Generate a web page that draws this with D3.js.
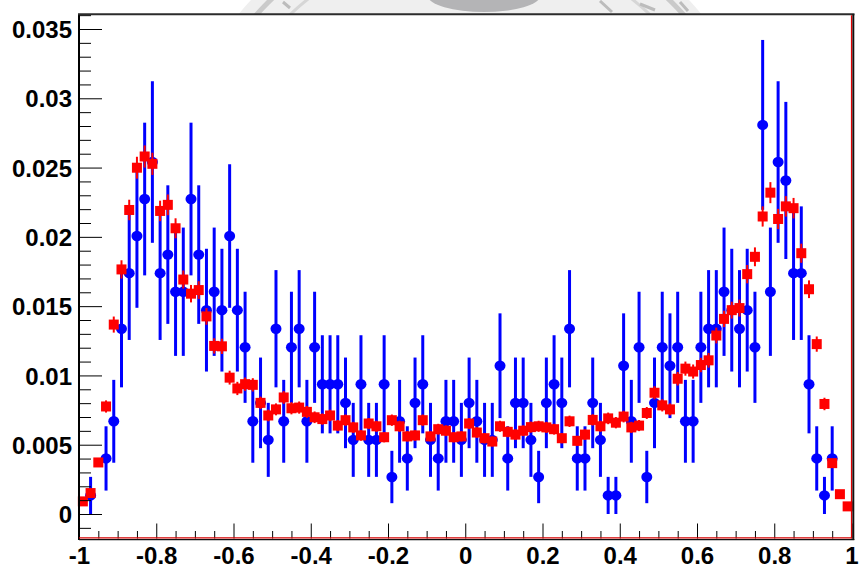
<!DOCTYPE html>
<html>
<head>
<meta charset="utf-8">
<script src="https://cdn.jsdelivr.net/npm/d3@7"></script>
<style>
  html, body { margin: 0; padding: 0; background: #fff; }
  svg { display: block; }
  .tick text { font-family: "Liberation Sans", Arial, Helvetica, sans-serif; font-weight: bold; font-size: 24px; fill: #000; }
</style>
</head>
<body>
<svg id="chart" width="859" height="567"></svg>
<script>
// Histogram binning: 100 bins on [-1, 1]
const binLow = -1, binWidth = 0.02, nBins = 100;
const binCenters = d3.range(nBins).map(i => binLow + binWidth * (i + 0.5));

// Blue series (data points, null = empty bin)
const blueValues = [
  null, 0.00134, null, 0.00401, 0.00669, 0.01337, 0.01738, 0.02006, 0.02273, 0.0254,
  0.01738, 0.01872, 0.01604, 0.01604, 0.02273, 0.01872, 0.01471, 0.01604, 0.01471, 0.02006,
  0.01471, 0.01203, 0.00669, 0.00802, 0.00535, 0.01337, 0.00669, 0.01203, 0.01337, 0.00669,
  0.01203, 0.00936, 0.00936, 0.00936, 0.00802, 0.00535, 0.00936, 0.00535, 0.00535, 0.00936,
  0.00267, 0.00669, 0.00401, 0.00802, 0.00936, 0.00535, 0.00401, 0.00669, 0.00669, 0.00535,
  0.00802, 0.00669, 0.00535, 0.00535, 0.0107, 0.00401, 0.00802, 0.00802, 0.00535, 0.00267,
  0.00802, 0.00936, 0.00802, 0.01337, 0.00401, 0.00401, 0.00802, 0.00535, 0.00134, 0.00134,
  0.0107, 0.00669, 0.01203, 0.00267, 0.00802, 0.01203, 0.0107, 0.01203, 0.00669, 0.00669,
  0.01203, 0.01337, 0.01337, 0.01604, 0.01471, 0.01337, 0.01471, 0.01203, 0.02808, 0.01604,
  0.0254, 0.02407, 0.01738, 0.01738, 0.00936, 0.00401, 0.00134, 0.00401, null, null
];
const blueErrors = [
  null, 0.00134, null, 0.00232, 0.00299, 0.00423, 0.00482, 0.00518, 0.00551, 0.00583,
  0.00482, 0.005, 0.00463, 0.00463, 0.00551, 0.005, 0.00443, 0.00463, 0.00443, 0.00518,
  0.00443, 0.00401, 0.00299, 0.00327, 0.00267, 0.00423, 0.00299, 0.00401, 0.00423, 0.00299,
  0.00401, 0.00354, 0.00354, 0.00354, 0.00327, 0.00267, 0.00354, 0.00267, 0.00267, 0.00354,
  0.00189, 0.00299, 0.00232, 0.00327, 0.00354, 0.00267, 0.00232, 0.00299, 0.00299, 0.00267,
  0.00327, 0.00299, 0.00267, 0.00267, 0.00378, 0.00232, 0.00327, 0.00327, 0.00267, 0.00189,
  0.00327, 0.00354, 0.00327, 0.00423, 0.00232, 0.00232, 0.00327, 0.00267, 0.00134, 0.00134,
  0.00378, 0.00299, 0.00401, 0.00189, 0.00327, 0.00401, 0.00378, 0.00401, 0.00299, 0.00299,
  0.00401, 0.00423, 0.00423, 0.00463, 0.00443, 0.00423, 0.00443, 0.00401, 0.00613, 0.00463,
  0.00583, 0.00567, 0.00482, 0.00482, 0.00354, 0.00232, 0.00134, 0.00232, null, null
];

// Red series (high-statistics distribution)
const redValues = [
  0.00091, 0.00151, 0.00372, 0.00776, 0.01367, 0.01765, 0.02194, 0.02499, 0.0258, 0.02527,
  0.02187, 0.02231, 0.02062, 0.01692, 0.0159, 0.01616, 0.01426, 0.01213, 0.0121, 0.00984,
  0.00906, 0.00937, 0.00932, 0.00802, 0.00711, 0.00755, 0.00841, 0.00763, 0.00768, 0.00737,
  0.00698, 0.00685, 0.00711, 0.00638, 0.00677, 0.00625, 0.00567, 0.00653, 0.00633, 0.00554,
  0.00677, 0.00633, 0.0056, 0.00567, 0.00677, 0.0056, 0.00612, 0.00601, 0.00554, 0.0056,
  0.00653, 0.00588, 0.00547, 0.00523, 0.00633, 0.00593, 0.00573, 0.00601, 0.00627, 0.00633,
  0.00625, 0.00612, 0.00547, 0.00669, 0.00528, 0.00573, 0.00679, 0.00633, 0.0069, 0.00659,
  0.00703, 0.00625, 0.00638, 0.00729, 0.00875, 0.00784, 0.00755, 0.00976, 0.01049, 0.01028,
  0.01075, 0.01109, 0.01288, 0.01408, 0.01471, 0.01486, 0.01731, 0.01856, 0.02147, 0.02319,
  0.02129, 0.0222, 0.02207, 0.01882, 0.01622, 0.01226, 0.00794, 0.00367, 0.00143, 0.00055
];
const redErrors = [
  0.00015, 0.0002, 0.0003, 0.00044, 0.00058, 0.00066, 0.00074, 0.00079, 0.0008, 0.0008,
  0.00074, 0.00075, 0.00072, 0.00065, 0.00063, 0.00064, 0.0006, 0.00055, 0.00055, 0.0005,
  0.00048, 0.00048, 0.00048, 0.00045, 0.00042, 0.00043, 0.00046, 0.00044, 0.00044, 0.00043,
  0.00042, 0.00041, 0.00042, 0.0004, 0.00041, 0.0004, 0.00038, 0.0004, 0.0004, 0.00037,
  0.00041, 0.0004, 0.00037, 0.00038, 0.00041, 0.00037, 0.00039, 0.00039, 0.00037, 0.00037,
  0.0004, 0.00038, 0.00037, 0.00036, 0.0004, 0.00039, 0.00038, 0.00039, 0.0004, 0.0004,
  0.0004, 0.00039, 0.00037, 0.00041, 0.00036, 0.00038, 0.00041, 0.0004, 0.00042, 0.00041,
  0.00042, 0.0004, 0.0004, 0.00043, 0.00047, 0.00044, 0.00043, 0.00049, 0.00051, 0.00051,
  0.00052, 0.00053, 0.00057, 0.00059, 0.00061, 0.00061, 0.00066, 0.00068, 0.00073, 0.00076,
  0.00073, 0.00074, 0.00074, 0.00069, 0.00064, 0.00055, 0.00045, 0.0003, 0.00019, 0.00012
];

// Axis ticks and labels
const xMajorTicks = [-1, -0.8, -0.6, -0.4, -0.2, 0, 0.2, 0.4, 0.6, 0.8, 1];
const xTickLabels = ["-1", "-0.8", "-0.6", "-0.4", "-0.2", "0", "0.2", "0.4", "0.6", "0.8", "1"];
const yMajorTicks = [0, 0.005, 0.01, 0.015, 0.02, 0.025, 0.03, 0.035];
const yTickLabels = ["0", "0.005", "0.01", "0.015", "0.02", "0.025", "0.03", "0.035"];

const svg = d3.select("#chart");
const frame = { left: 79, right: 851.5, top: 14.3, bottom: 538.5 };

const x = d3.scaleLinear().domain([-1, 1]).range([frame.left, frame.right]);
const y = d3.scaleLinear().domain([0, 0.035]).range([514, 29]);

// Faint emblem peeking out above the frame
const defs = svg.append("defs");
defs.append("clipPath").attr("id", "topStrip")
  .append("rect").attr("x", 0).attr("y", 0).attr("width", 859).attr("height", frame.top);
const emblem = svg.append("g").attr("clip-path", "url(#topStrip)");
emblem.append("circle").attr("cx", 470).attr("cy", 205).attr("r", 300).attr("fill", "#efefef");
emblem.append("circle").attr("cx", 470).attr("cy", 205).attr("r", 286)
  .attr("fill", "none").attr("stroke", "#cacaca").attr("stroke-width", 5);
emblem.append("circle").attr("cx", 470).attr("cy", 205).attr("r", 262)
  .attr("fill", "none").attr("stroke", "#d6d6d6").attr("stroke-width", 3);
emblem.append("ellipse").attr("cx", 484).attr("cy", -4).attr("rx", 56).attr("ry", 16).attr("fill", "#b4b4b6");
emblem.append("path").attr("d", "M283,2 L290,8 M600,1 L612,12 M640,4 L655,10 M680,2 L688,11")
  .attr("stroke", "#bcbcbc").attr("stroke-width", 3).attr("fill", "none");

// Plot area background
svg.append("rect")
  .attr("x", frame.left).attr("y", frame.top)
  .attr("width", frame.right - frame.left).attr("height", frame.bottom - frame.top)
  .attr("fill", "#fff");

const plot = svg.append("g");

// Blue points with error bars
const blueData = binCenters.map((c, i) => ({ x: c, v: blueValues[i], e: blueErrors[i] }))
  .filter(d => d.v !== null);
plot.append("g").selectAll("line").data(blueData).join("line")
  .attr("x1", d => x(d.x)).attr("x2", d => x(d.x))
  .attr("y1", d => y(d.v - d.e)).attr("y2", d => y(d.v + d.e))
  .attr("stroke", "#0000ff").attr("stroke-width", 3);
plot.append("g").selectAll("ellipse").data(blueData).join("ellipse")
  .attr("cx", d => x(d.x)).attr("cy", d => y(d.v))
  .attr("rx", 5.5).attr("ry", 5.2).attr("fill", "#0000ff");

// Red points with error bars
const redData = binCenters.map((c, i) => ({ x: c, v: redValues[i], e: redErrors[i] }));
plot.append("g").selectAll("line").data(redData).join("line")
  .attr("x1", d => x(d.x)).attr("x2", d => x(d.x))
  .attr("y1", d => y(d.v - d.e)).attr("y2", d => y(d.v + d.e))
  .attr("stroke", "#ff0000").attr("stroke-width", 2);
plot.append("g").selectAll("rect").data(redData).join("rect")
  .attr("x", d => x(d.x) - 5).attr("y", d => y(d.v) - 5)
  .attr("width", 10).attr("height", 10).attr("fill", "#ff0000");

// Y axis: minor and major ticks pointing inward
const yMinor = d3.range(-1, 37).map(k => k * 0.001).filter(v => yMajorTicks.every(m => Math.abs(m - v) > 1e-9));
const yMinorAxis = svg.append("g").attr("transform", `translate(${frame.left},0)`)
  .call(d3.axisLeft(y).tickValues(yMinor).tickSize(-12).tickFormat(""));
const yMajorAxis = svg.append("g").attr("transform", `translate(${frame.left},0)`)
  .call(d3.axisLeft(y).tickValues(yMajorTicks).tickSize(-23).tickPadding(7)
    .tickFormat((d, i) => yTickLabels[i]));
[yMinorAxis, yMajorAxis].forEach(g => {
  g.select(".domain").remove();
  g.selectAll(".tick line").attr("stroke", "#000").attr("stroke-width", 1);
});
yMajorAxis.selectAll(".tick text").attr("dy", "0.36em");

// X axis: minor and major ticks pointing inward
const xMinor = d3.range(-20, 21).map(k => k * 0.05).filter(v => xMajorTicks.every(m => Math.abs(m - v) > 1e-9));
const xMinorAxis = svg.append("g").attr("transform", `translate(0,${frame.bottom})`)
  .call(d3.axisBottom(x).tickValues(xMinor).tickSize(-7.5).tickFormat(""));
const xMajorAxis = svg.append("g").attr("transform", `translate(0,${frame.bottom})`)
  .call(d3.axisBottom(x).tickValues(xMajorTicks).tickSize(-15)
    .tickFormat((d, i) => xTickLabels[i]));
[xMinorAxis, xMajorAxis].forEach(g => {
  g.select(".domain").remove();
  g.selectAll(".tick line").attr("stroke", "#000").attr("stroke-width", 1);
});
xMajorAxis.selectAll(".tick text").attr("y", 25).attr("dy", "0");

// Frame
svg.append("line").attr("x1", frame.left).attr("x2", frame.left)
  .attr("y1", frame.top).attr("y2", frame.bottom + 1.5).attr("stroke", "#000").attr("stroke-width", 2);
svg.append("line").attr("x1", frame.left - 1).attr("x2", frame.right + 3)
  .attr("y1", frame.top).attr("y2", frame.top).attr("stroke", "#2b2b2b").attr("stroke-width", 2);
svg.append("line").attr("x1", frame.right + 1.8).attr("x2", frame.right + 1.8)
  .attr("y1", frame.top).attr("y2", frame.bottom + 1.5).attr("stroke", "#111").attr("stroke-width", 2);
svg.append("line").attr("x1", frame.right).attr("x2", frame.right)
  .attr("y1", frame.top + 1).attr("y2", frame.bottom).attr("stroke", "#e00000").attr("stroke-width", 1.2);
svg.append("line").attr("x1", frame.left).attr("x2", frame.right + 2.8)
  .attr("y1", frame.bottom + 1.2).attr("y2", frame.bottom + 1.2).attr("stroke", "#111").attr("stroke-width", 1.2);
svg.append("line").attr("x1", frame.left).attr("x2", frame.right)
  .attr("y1", frame.bottom - 0.6).attr("y2", frame.bottom - 0.6).attr("stroke", "#d40000").attr("stroke-width", 1.2);
</script>
</body>
</html>
